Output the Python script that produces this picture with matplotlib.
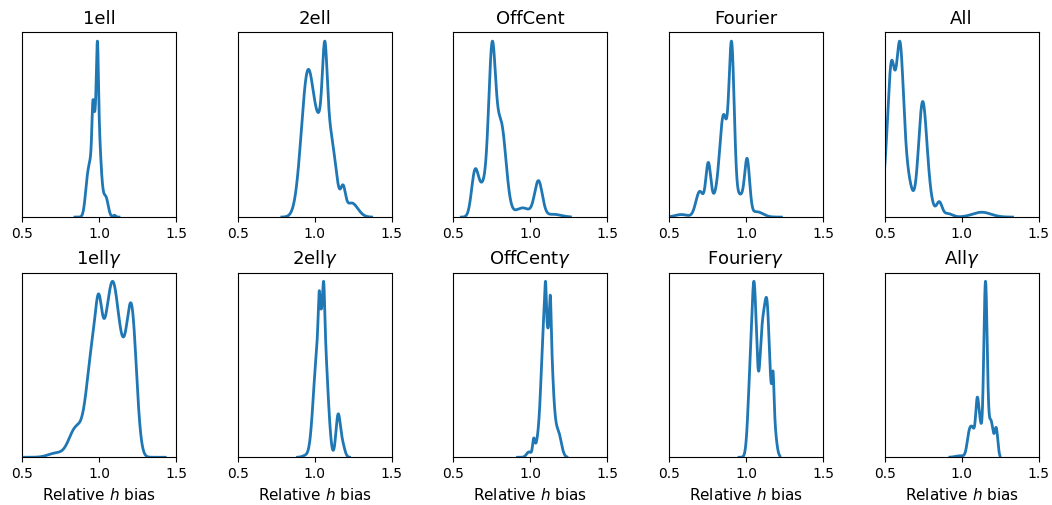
import numpy as np
import matplotlib
matplotlib.use("Agg")
import matplotlib.pyplot as plt

# Panel titles, top row then bottom row
titles = ["1ell", "2ell", "OffCent", "Fourier", "All",
          "1ell$\\gamma$", "2ell$\\gamma$", "OffCent$\\gamma$", "Fourier$\\gamma$", "All$\\gamma$"]

# Each density is a sum of Gaussian kernels: centres, widths and heights,
# evaluated over the support [lo, hi] of the underlying samples.
centres = [
    [0.925, 0.955, 0.960, 0.990, 0.990, 1.045, 1.100],
    [0.955, 1.060, 1.066, 1.120, 1.185, 1.240],
    [0.640, 0.700, 0.752, 0.810, 0.950, 1.053, 1.150],
    [0.580, 0.700, 0.755, 0.800, 0.855, 0.907, 0.960, 1.008, 1.070],
    [0.510, 0.545, 0.598, 0.640, 0.745, 0.780, 0.855, 0.910, 1.130],
    [0.720, 0.850, 0.960, 0.998, 1.040, 1.092, 1.155, 1.215],
    [0.940, 1.000, 1.029, 1.030, 1.059, 1.062, 1.090, 1.152, 1.180],
    [0.990, 1.022, 1.065, 1.092, 1.099, 1.115, 1.130, 1.132, 1.155, 1.180],
    [1.030, 1.052, 1.068, 1.108, 1.140, 1.175, 1.176],
    [0.990, 1.045, 1.068, 1.100, 1.115, 1.155, 1.190, 1.225],
]
widths = [
    [0.015, 0.020, 0.006, 0.020, 0.006, 0.015, 0.008],
    [0.042, 0.045, 0.015, 0.030, 0.015, 0.040],
    [0.022, 0.035, 0.022, 0.032, 0.050, 0.025, 0.050],
    [0.040, 0.025, 0.016, 0.030, 0.025, 0.017, 0.030, 0.016, 0.040],
    [0.025, 0.022, 0.023, 0.035, 0.026, 0.030, 0.018, 0.030, 0.060],
    [0.050, 0.045, 0.040, 0.020, 0.040, 0.035, 0.045, 0.030],
    [0.020, 0.020, 0.006, 0.028, 0.006, 0.020, 0.015, 0.014, 0.015],
    [0.015, 0.007, 0.025, 0.018, 0.005, 0.012, 0.005, 0.014, 0.012, 0.020],
    [0.016, 0.012, 0.010, 0.022, 0.015, 0.017, 0.006],
    [0.030, 0.012, 0.020, 0.009, 0.015, 0.011, 0.015, 0.010],
]
heights = [
    [0.15, 0.25, 0.20, 0.55, 0.35, 0.10, 0.01],
    [0.85, 0.55, 0.45, 0.20, 0.13, 0.085],
    [0.22, 0.17, 0.80, 0.50, 0.05, 0.19, 0.015],
    [0.012, 0.12, 0.22, 0.08, 0.46, 0.75, 0.10, 0.24, 0.025],
    [0.20, 0.76, 0.85, 0.25, 0.60, 0.12, 0.08, 0.02, 0.028],
    [0.03, 0.21, 0.75, 0.35, 0.60, 0.80, 0.60, 0.85],
    [0.01, 0.15, 0.22, 0.65, 0.22, 0.50, 0.10, 0.26, 0.08],
    [0.03, 0.08, 0.13, 0.75, 0.20, 0.12, 0.20, 0.60, 0.10, 0.15],
    [0.42, 0.62, 0.22, 0.63, 0.50, 0.22, 0.17],
    [0.008, 0.05, 0.16, 0.16, 0.20, 0.95, 0.20, 0.15],
]
support_lo = [0.844, 0.787, 0.552, 0.504, 0.450, 0.510, 0.889, 0.917, 0.955, 0.924]
support_hi = [1.130, 1.370, 1.260, 1.230, 1.330, 1.430, 1.226, 1.237, 1.220, 1.249]

x_ticks = [0.5, 1.0, 1.5]
line_color = "#1f77b4"


def density(x, c, w, h):
    y = np.zeros_like(x)
    for ci, wi, hi in zip(c, w, h):
        y += hi * np.exp(-0.5 * ((x - ci) / wi) ** 2)
    return y


fig, axes = plt.subplots(2, 5, figsize=(10.52, 5.05), dpi=100)
fig.subplots_adjust(left=0.0209, right=0.9873, top=0.936, bottom=0.0945,
                    wspace=0.40, hspace=0.30)

for k, ax in enumerate(axes.flat):
    x = np.linspace(support_lo[k], support_hi[k], 800)
    y = density(x, centres[k], widths[k], heights[k])
    ax.plot(x, y, color=line_color, lw=2.0)
    ax.set_xlim(0.5, 1.5)
    ax.set_ylim(0, y.max() * 1.05)
    ax.set_xticks(x_ticks)
    ax.set_yticks([])
    ax.tick_params(axis="x", labelsize=10)
    ax.set_title(titles[k], fontsize=13)
    if k >= 5:
        ax.set_xlabel("Relative $h$ bias", fontsize=11)

fig.savefig("out.png", dpi=100)
